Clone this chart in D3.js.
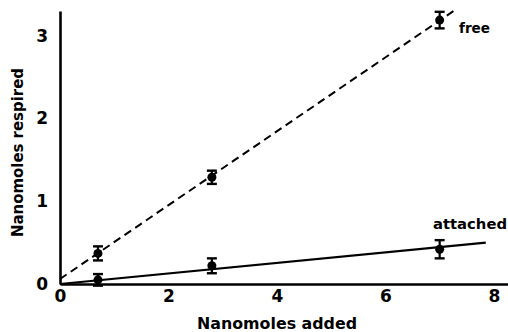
<!DOCTYPE html>
<html>
<head>
<meta charset="utf-8">
<script src="https://cdn.jsdelivr.net/npm/d3@7"></script>
<style>
  body { margin: 0; background: #fff; }
  svg { display: block; }
  .tick text { font-family: "DejaVu Sans", sans-serif; font-weight: bold; font-size: 17px; fill: #000; }
  .title { font-family: "DejaVu Sans", sans-serif; font-weight: bold; font-size: 16.5px; fill: #000; }
  .lab { font-family: "DejaVu Sans", sans-serif; font-weight: bold; font-size: 13.5px; fill: #000; }
</style>
</head>
<body>
<div id="chart"></div>
<script>
// data
var added = [0.7, 2.8, 7.0];
var freeVals = [0.37, 1.29, 3.19];
var freeErr = [0.085, 0.08, 0.1];
var attachedVals = [0.05, 0.22, 0.42];
var attachedErr = [0.07, 0.09, 0.11];
// fitted lines, [x, y] end points
var freeLine = [[0, 0.06], [7.3, 3.32]];
var attachedLine = [[0, 0.0], [7.85, 0.5]];
var xTicks = [0, 2, 4, 6, 8];
var yTicks = [0, 1, 2, 3];

var width = 508, height = 332;

var svg = d3.select("#chart").append("svg")
  .attr("width", width)
  .attr("height", height);

var x = d3.scaleLinear().domain([0, 8.26]).range([60, 508]);
var y = d3.scaleLinear().domain([0, 3.3]).range([284, 11]);

// x axis
svg.append("g")
  .attr("transform", "translate(0," + y(0) + ")")
  .call(d3.axisBottom(x).tickValues(xTicks).tickSize(0).tickPadding(6).tickFormat(d3.format("d")));
// y axis
svg.append("g")
  .attr("transform", "translate(" + x(0) + ",0)")
  .call(d3.axisLeft(y).tickValues(yTicks).tickSize(0).tickPadding(12).tickFormat(d3.format("d")));

svg.selectAll(".domain")
  .attr("stroke", "#000")
  .attr("stroke-width", 2.6);

// axis titles
svg.append("text")
  .attr("class", "title")
  .attr("x", 197)
  .attr("y", 329)
  .attr("textLength", 160)
  .attr("lengthAdjust", "spacingAndGlyphs")
  .text("Nanomoles added");

svg.append("text")
  .attr("class", "title")
  .attr("transform", "translate(23,237) rotate(-90)")
  .attr("textLength", 169)
  .attr("lengthAdjust", "spacingAndGlyphs")
  .text("Nanomoles respired");

// fitted lines
var line = d3.line().x(function(d){ return x(d[0]); }).y(function(d){ return y(d[1]); });

svg.append("path")
  .datum(freeLine)
  .attr("d", line)
  .attr("fill", "none")
  .attr("stroke", "#000")
  .attr("stroke-width", 2)
  .attr("stroke-dasharray", "8,5");

svg.append("path")
  .datum(attachedLine)
  .attr("d", line)
  .attr("fill", "none")
  .attr("stroke", "#000")
  .attr("stroke-width", 2.2);

// points with error bars
function drawSeries(vals, errs) {
  var pts = added.map(function(a, i){ return {x: a, y: vals[i], e: errs[i]}; });
  var g = svg.selectAll(null)
    .data(pts)
    .enter().append("g");
  g.append("line")
    .attr("x1", function(d){ return x(d.x); })
    .attr("x2", function(d){ return x(d.x); })
    .attr("y1", function(d){ return y(d.y - d.e); })
    .attr("y2", function(d){ return y(d.y + d.e); })
    .attr("stroke", "#000").attr("stroke-width", 2.2);
  [-1, 1].forEach(function(s){
    g.append("line")
      .attr("x1", function(d){ return x(d.x) - 5; })
      .attr("x2", function(d){ return x(d.x) + 5; })
      .attr("y1", function(d){ return y(d.y + s * d.e); })
      .attr("y2", function(d){ return y(d.y + s * d.e); })
      .attr("stroke", "#000").attr("stroke-width", 2.4);
  });
  g.append("circle")
    .attr("cx", function(d){ return x(d.x); })
    .attr("cy", function(d){ return y(d.y); })
    .attr("r", 4.5)
    .attr("fill", "#000");
}
drawSeries(freeVals, freeErr);
drawSeries(attachedVals, attachedErr);

// series labels
svg.append("text")
  .attr("class", "lab")
  .attr("x", 459)
  .attr("y", 33)
  .attr("textLength", 31)
  .attr("lengthAdjust", "spacingAndGlyphs")
  .text("free");

svg.append("text")
  .attr("class", "lab")
  .attr("x", 433)
  .attr("y", 229)
  .attr("textLength", 74)
  .attr("lengthAdjust", "spacingAndGlyphs")
  .text("attached");
</script>
</body>
</html>
